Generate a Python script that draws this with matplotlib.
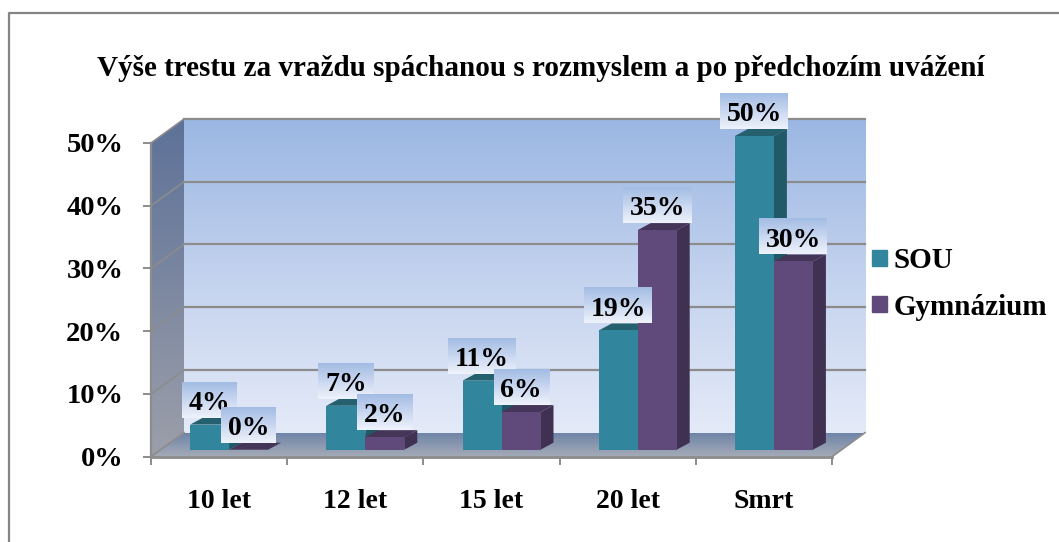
import matplotlib
matplotlib.use('Agg')
import matplotlib.pyplot as plt
import numpy as np
from matplotlib.colors import LinearSegmentedColormap
from matplotlib.lines import Line2D
from matplotlib.patches import Patch, Polygon

# data
kategorie = ['10 let', '12 let', '15 let', '20 let', 'Smrt']
sou = [4, 7, 11, 19, 50]
gymnazium = [0, 2, 6, 35, 30]
osa_y = [0, 10, 20, 30, 40, 50]
nazev = 'Výše trestu za vraždu spáchanou s rozmyslem a po předchozím uvážení'

W, H = 1059, 542
plt.rcParams['font.family'] = ['Liberation Serif', 'DejaVu Serif']
plt.rcParams['font.weight'] = 'bold'

fig = plt.figure(figsize=(W / 100, H / 100), dpi=100, facecolor='white')
ax = fig.add_axes([151 / W, 1 - 456.7 / H, 681 / W, 313.7 / H])
ax.set_xlim(-0.5, 4.5)
ax.set_ylim(0, 50)
ax.patch.set_visible(False)
for s in ax.spines.values():
    s.set_visible(False)

# prevod pixelu na jednotky os
PX = 681 / 5
PY = 313.7 / 50
DX, DY = 33 / PX, 24 / PY      # hloubka steny
SX, SY = 10 / PX, 7 / PY       # posun sloupcu od predni hrany
BX, BY = 13 / PX, 7 / PY       # hloubka sloupce
SIRKA = 39 / PX
SEDA = '#8c8c8c'
x = np.arange(len(kategorie))


def grad(barvy):
    return LinearSegmentedColormap.from_list('g', barvy)


def obdelnik(x0, x1, y0, y1, barvy, z, clip=None):
    im = ax.imshow(np.linspace(0, 1, 128).reshape(-1, 1), extent=(x0, x1, y0, y1), origin='upper',
                   cmap=grad(barvy), aspect='auto', zorder=z, clip_on=clip is not None)
    if clip is not None:
        im.set_clip_path(clip)
        im.set_clip_box(fig.bbox)
    return im


# zadni stena
obdelnik(-0.5 + DX, 4.5 + DX, DY, 50 + DY, ['#9BB7E3', '#C3D2EE', '#E4EAF8'], 1)

# leva stena
leva = Polygon([(-0.5, 0), (-0.5, 50), (-0.5 + DX, 50 + DY), (-0.5 + DX, DY)], fc='none', ec='none',
               transform=ax.transData, zorder=1)
ax.add_patch(leva)
obdelnik(-0.5, -0.5 + DX, 0, 50 + DY, ['#5D7198', '#9C9FAA'], 1, clip=leva)

# podlaha
podlaha = Polygon([(-0.5, 0), (-0.5 + DX, DY), (4.5 + DX, DY), (4.5, 0)], fc='none', ec='none',
                  transform=ax.transData, zorder=1)
ax.add_patch(podlaha)
obdelnik(-0.5, 4.5 + DX, 0, DY, ['#6F85A8', '#A5ABB7'], 1.1, clip=podlaha)

# mrizka
for v in osa_y:
    if v > 0:
        ax.plot([-0.5 + DX, 4.5 + DX], [v + DY, v + DY], color=SEDA, lw=1.6, zorder=2, clip_on=False)
    ax.plot([-0.5, -0.5 + DX], [v, v + DY], color=SEDA, lw=1.2, zorder=2, clip_on=False)
ax.plot([-0.5, -0.5], [0, 50], color=SEDA, lw=1.6, zorder=2, clip_on=False)
ax.plot([-0.5, 4.5], [0, 0], color=SEDA, lw=2, zorder=2, clip_on=False)
ax.plot([4.5, 4.5 + DX], [0, DY], color=SEDA, lw=1.2, zorder=2, clip_on=False)

# sloupce
serie = [(sou, -SIRKA, '#31859C', '#215968', '#25606F'),
         (gymnazium, 0, '#604A7B', '#403152', '#453558')]
z = 3
for hodnoty, posun, barva, bok, vrch in serie:
    for xi, v in zip(x, hodnoty):
        x0 = xi + SX + posun
        x1 = x0 + SIRKA
        y0 = SY
        y1 = SY + v
        ax.add_patch(Polygon([(x1, y0), (x1 + BX, y0 + BY), (x1 + BX, y1 + BY), (x1, y1)],
                             fc=bok, ec='none', zorder=z, clip_on=False))
        ax.add_patch(Polygon([(x0, y1), (x0 + BX, y1 + BY), (x1 + BX, y1 + BY), (x1, y1)],
                             fc=vrch, ec='none', zorder=z, clip_on=False))
    ax.bar(x + SX + posun, hodnoty, SIRKA, bottom=SY, align='edge', color=barva, zorder=z + 0.1, clip_on=False)
    z += 1

# popisky hodnot
z = 6
for hodnoty, posun, *_ in serie:
    for xi, v in zip(x, hodnoty):
        txt = f'{v}%'
        cx = xi + SX + posun + SIRKA / 2
        sirka = (68 if len(txt) > 2 else 55) / PX
        y0 = v + SY + 7 / PY
        y1 = y0 + 36 / PY
        obdelnik(cx - sirka / 2, cx + sirka / 2, y0, y1, ['#A3BCE4', '#C9D7F0', '#EFF3FB'], z, clip=None)
        ax.text(cx, (y0 + y1) / 2 - 0.6, txt, ha='center', va='center', fontsize=20, zorder=z + 0.1)
        z += 0.2
ax.set_xlim(-0.5, 4.5)
ax.set_ylim(0, 50)

# osy
ax.set_yticks(osa_y)
ax.set_yticklabels([f'{v}%' for v in osa_y], fontsize=20.5)
ax.tick_params(axis='y', length=6, width=1.4, color=SEDA, pad=14)
ax.set_xticks(x)
ax.set_xticklabels(kategorie, fontsize=20)
ax.set_xticks(np.arange(-0.5, 5), minor=True)
ax.tick_params(axis='x', which='major', length=0, pad=23)
ax.tick_params(axis='x', which='minor', length=6, width=1.4, color=SEDA)

# nadpis
fig.text(541 / W, 1 - 68 / H, nazev, ha='center', va='center', fontsize=21)

# legenda
fig.legend(handles=[Patch(color='#31859C', label='SOU'), Patch(color='#604A7B', label='Gymnázium')],
           loc='upper left', bbox_to_anchor=(872 / W, 1 - 247 / H), frameon=False, fontsize=21,
           handlelength=0.51, handleheight=0.47, handletextpad=0.22, labelspacing=0.68, borderpad=0,
           borderaxespad=0)

# ramecek
fig.add_artist(Line2D([9 / W, 9 / W, 1], [0, 1 - 13 / H, 1 - 13 / H], color='#848484', lw=1.6))

fig.savefig('out.png', dpi=100)
